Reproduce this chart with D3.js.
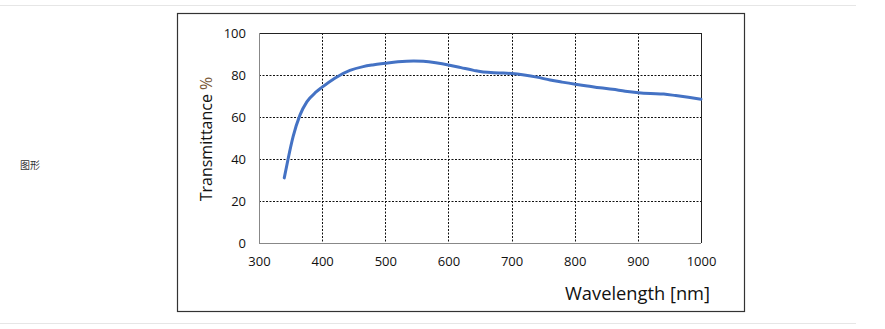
<!DOCTYPE html>
<html><head><meta charset="utf-8">
<script src="https://cdn.jsdelivr.net/npm/d3@7"></script>
<style>
body{margin:0;background:#fff;}
svg{display:block;}
</style></head>
<body>
<svg id="c" width="885" height="329"></svg>
<script>
const wavelengths = [340, 346, 354, 365, 376, 390, 400, 420, 444, 465, 480, 500, 520, 545, 560, 580, 600, 620, 640, 655, 680, 700, 720, 740, 761, 780, 801, 820, 840, 860, 880, 901, 920, 941, 960, 980, 1000];
const transmittance = [31, 39.9, 50.6, 61, 67.3, 71.8, 74.2, 78.5, 82.2, 84, 84.8, 85.6, 86.3, 86.7, 86.5, 85.8, 84.8, 83.5, 82.2, 81.4, 81.0, 80.7, 80.0, 79.0, 77.6, 76.6, 75.6, 74.8, 73.9, 73.2, 72.3, 71.6, 71.2, 70.9, 70.2, 69.4, 68.5];
const xTicks = [300, 400, 500, 600, 700, 800, 900, 1000];
const yTicks = [0, 20, 40, 60, 80, 100];
const xTitle = "Wavelength [nm]";
const yTitle = "Transmittance";
const sideLabel = "图形";

const svg = d3.select("#c");
const font = "'Open Sans', 'Noto Sans', sans-serif";

// page separators
svg.append("line").attr("x1",0).attr("x2",856).attr("y1",5.5).attr("y2",5.5).attr("stroke","#e6e6e6");
svg.append("line").attr("x1",0).attr("x2",856).attr("y1",323.5).attr("y2",323.5).attr("stroke","#e6e6e6");

svg.append("text").attr("x",20).attr("y",169).attr("font-size",10).attr("font-family","'Noto Sans CJK SC', sans-serif").attr("fill","#333").text(sideLabel);

// chart box
svg.append("rect").attr("x",177.5).attr("y",13.5).attr("width",567).attr("height",298).attr("fill","none").attr("stroke","#333").attr("stroke-width",1.2);

const x = d3.scaleLinear().domain([300,1000]).range([259,701]);
const y = d3.scaleLinear().domain([0,100]).range([243,33]);

const g = svg.append("g");
// grid
g.selectAll(".vg").data(xTicks.filter(d=>d>300 && d<1000)).join("line")
  .attr("x1",d=>Math.round(x(d))+0.5).attr("x2",d=>Math.round(x(d))+0.5)
  .attr("y1",y(100)).attr("y2",y(0))
  .attr("stroke","#111").attr("stroke-width",1).attr("stroke-dasharray","2,1.5");
g.selectAll(".hg").data(yTicks.filter(d=>d>0 && d<100)).join("line")
  .attr("x1",x(300)).attr("x2",x(1000))
  .attr("y1",d=>Math.round(y(d))+0.5).attr("y2",d=>Math.round(y(d))+0.5)
  .attr("stroke","#111").attr("stroke-width",1).attr("stroke-dasharray","2,1.5");
// frame
g.append("line").attr("x1",x(300)).attr("x2",x(1000)).attr("y1",y(100)+0.5).attr("y2",y(100)+0.5).attr("stroke","#222");
g.append("line").attr("x1",x(1000)+0.5).attr("x2",x(1000)+0.5).attr("y1",y(100)).attr("y2",y(0)).attr("stroke","#222");
g.append("line").attr("x1",x(300)).attr("x2",x(1000)).attr("y1",y(0)+0.5).attr("y2",y(0)+0.5).attr("stroke","#888");
g.append("line").attr("x1",x(300)+0.5).attr("x2",x(300)+0.5).attr("y1",y(100)).attr("y2",y(0)).attr("stroke","#888");

// axes labels via d3 axes
const xAxis = svg.append("g").attr("transform",`translate(0,${y(0)})`)
  .call(d3.axisBottom(x).tickValues(xTicks).tickSize(0).tickPadding(14).tickFormat(d3.format("d")));
const yAxis = svg.append("g").attr("transform",`translate(${x(300)},0)`)
  .call(d3.axisLeft(y).tickValues(yTicks).tickSize(0).tickPadding(13).tickFormat(d3.format("d")));
[xAxis,yAxis].forEach(a=>{
  a.select(".domain").remove();
  a.selectAll("text").attr("font-size",13).attr("font-family",font).attr("fill","#111");
});

// curve
const line = d3.line().x((d,i)=>x(wavelengths[i])).y(d=>y(d)).curve(d3.curveMonotoneX);
svg.append("path").datum(transmittance).attr("d",line).attr("fill","none")
  .attr("stroke","#4472C4").attr("stroke-width",3).attr("stroke-linecap","round").attr("stroke-linejoin","round");

// titles
svg.append("text").attr("x",710).attr("y",300).attr("text-anchor","end").attr("font-size",18.3)
  .attr("font-family",font).attr("fill","#111").text(xTitle);
const yt = svg.append("text").attr("transform","translate(212,139) rotate(-90)").attr("text-anchor","middle")
  .attr("font-size",16).attr("font-family",font).attr("fill","#111");
yt.append("tspan").text(yTitle + " ");
yt.append("tspan").attr("fill","#7a5a3a").text("%");
</script>
</body></html>
